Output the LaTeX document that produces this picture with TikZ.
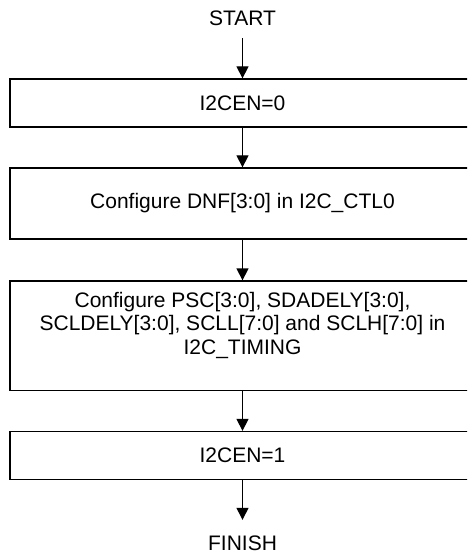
\documentclass[tikz,border=0pt]{standalone}
\usepackage{fontspec}
\setmainfont{Liberation Sans}
\usetikzlibrary{arrows.meta}
\begin{document}
\begin{tikzpicture}[x=1pt,y=-1pt,
  lbl/.style={inner sep=0pt, align=center, font=\fontsize{21}{23.3}\selectfont},
  box/.style={draw, line width=1.3pt, minimum width=465pt, inner sep=0pt, align=center, font=\fontsize{21}{23.3}\selectfont},
  arr/.style={-{Triangle[width=12pt,length=12pt]}, line width=1.3pt}]
\useasboundingbox (0,0) rectangle (467,556);
\clip (0,0) rectangle (467,556);
\node[lbl, minimum height=39.6pt] (start) at (242.5,18.5) {START};
\node[box, minimum height=48pt] (b1) at (242.5,103) {I2CEN=0};
\node[box, minimum height=71pt] (b2) at (242.5,203.5) {Configure DNF[3:0] in I2C\_CTL0};
\node[box, minimum height=109.5pt] (b3) at (242.5,335.75) {};
\node[lbl] (b3t) at (242.5,325.3) {Configure PSC[3:0], SDADELY[3:0],\\SCLDELY[3:0], SCLL[7:0] and SCLH[7:0] in\\I2C\_TIMING};
\node[box, minimum height=48pt] (b4) at (242.5,455.5) {I2CEN=1};
\node[lbl, minimum height=47.4pt] (finish) at (242.5,543.7) {FINISH};
\draw[arr] (start) -- (b1);
\draw[arr] (b1) -- (b2);
\draw[arr] (b2) -- (b3);
\draw[arr] (b3) -- (b4);
\draw[arr] (b4) -- (finish);
\end{tikzpicture}
\end{document}
